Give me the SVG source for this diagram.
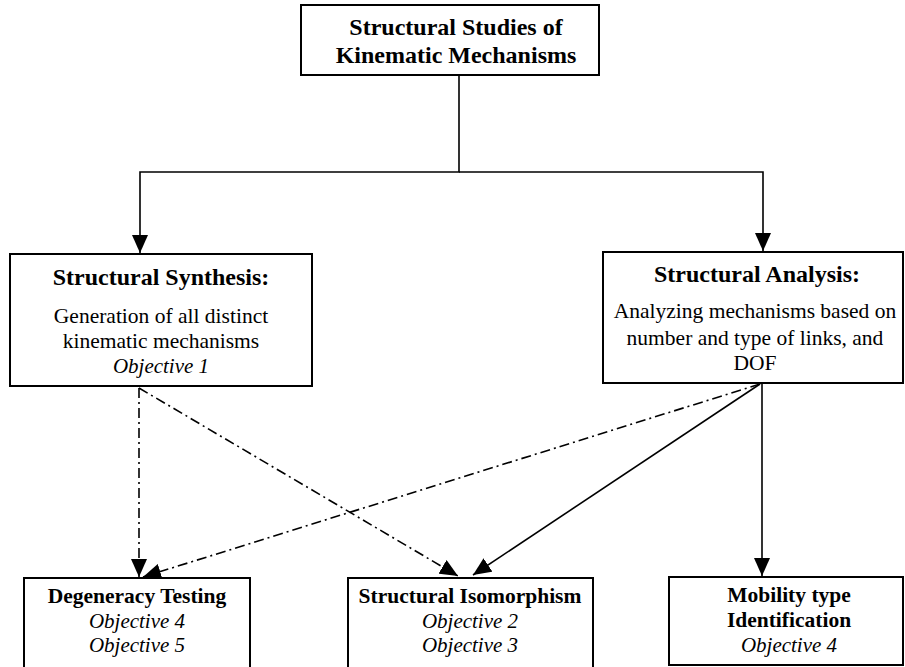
<svg xmlns="http://www.w3.org/2000/svg" width="905" height="667" viewBox="0 0 905 667">
  <defs>
    <marker id="arrow" viewBox="0 0 18 16" refX="18" refY="8" markerWidth="18" markerHeight="16" markerUnits="userSpaceOnUse" orient="auto">
      <path d="M0,0 L18,8 L0,16 Z" fill="#000"/>
    </marker>
    <style>
      .box { fill: #fff; stroke: #000; stroke-width: 2; }
      .t { font-family: "Liberation Serif", "Times New Roman", serif; fill: #000; text-anchor: middle; }
      .h1 { font-size: 24px; font-weight: bold; }
      .h2 { font-size: 21.5px; font-weight: bold; }
      .body { font-size: 21.5px; }
      .obj { font-size: 21px; font-style: italic; }
      .link { fill: none; stroke: #000; stroke-width: 1.6; }
      .dashdot { stroke-dasharray: 10 4 2 4; }
    </style>
  </defs>
  <rect width="905" height="667" fill="#fff"/>

  <g id="connectors">
    <path class="link" d="M459,75 V172 H140 V253" marker-end="url(#arrow)"/>
    <path class="link" d="M459,172 H763 V251" marker-end="url(#arrow)"/>
    <path class="link dashdot" d="M139,388 V577" marker-end="url(#arrow)"/>
    <path class="link dashdot" d="M139,388 L458,576" marker-end="url(#arrow)"/>
    <path class="link dashdot" d="M760,384 L143,577" marker-end="url(#arrow)"/>
    <path class="link" d="M760,384 L473,575" marker-end="url(#arrow)"/>
    <path class="link" d="M762,383 V576" marker-end="url(#arrow)"/>
  </g>

  <g id="studies">
    <rect class="box" x="301" y="5" width="298" height="70"/>
    <text class="t h1" x="456" y="35">Structural Studies of</text>
    <text class="t h1" x="456" y="63">Kinematic Mechanisms</text>
  </g>

  <g id="synthesis">
    <rect class="box" x="10" y="254" width="302" height="132"/>
    <text class="t h1" x="161" y="285">Structural Synthesis:</text>
    <text class="t body" x="161" y="323">Generation of all distinct</text>
    <text class="t body" x="161" y="348">kinematic mechanisms</text>
    <text class="t obj" x="161" y="373">Objective 1</text>
  </g>

  <g id="analysis">
    <rect class="box" x="603" y="252" width="300" height="131"/>
    <text class="t h1" x="757" y="282">Structural Analysis:</text>
    <text class="t body" x="755" y="318">Analyzing mechanisms based on</text>
    <text class="t body" x="755" y="345">number and type of links, and</text>
    <text class="t body" x="755" y="370">DOF</text>
  </g>

  <g id="degeneracy">
    <rect class="box" x="24" y="578" width="226" height="100"/>
    <text class="t h2" x="137" y="603">Degeneracy Testing</text>
    <text class="t obj" x="137" y="628">Objective 4</text>
    <text class="t obj" x="137" y="652">Objective 5</text>
  </g>

  <g id="isomorphism">
    <rect class="box" x="348" y="578" width="245" height="100"/>
    <text class="t h2" x="470" y="603">Structural Isomorphism</text>
    <text class="t obj" x="470" y="628">Objective 2</text>
    <text class="t obj" x="470" y="652">Objective 3</text>
  </g>

  <g id="mobility">
    <rect class="box" x="669" y="577" width="234" height="88"/>
    <text class="t h2" x="789" y="602">Mobility type</text>
    <text class="t h2" x="789" y="627">Identification</text>
    <text class="t obj" x="789" y="652">Objective 4</text>
  </g>
</svg>
